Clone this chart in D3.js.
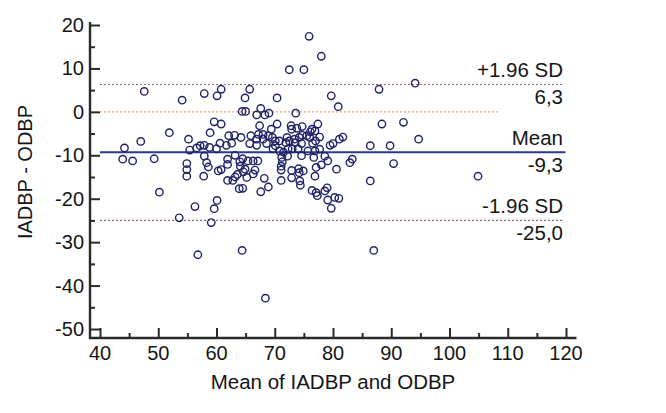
<!DOCTYPE html>
<html>
<head>
<meta charset="utf-8">
<script src="https://cdn.jsdelivr.net/npm/d3@7"></script>
<style>
  body { margin: 0; background: #fff; }
  svg text { font-family: "Liberation Sans", Arial, sans-serif; fill: #151515; }
</style>
</head>
<body>
<div id="chart"></div>
<script>
"use strict";

// == data: mean of the two methods, and their difference ==
var meanValues = [
  75.9, 78.0, 72.5, 75.0, 94.1, 87.9, 47.6, 54.1, 57.9, 60.1, 60.8, 65.7, 64.9, 70.4, 79.7, 80.9,
  64.4, 65.0, 67.6, 66.9, 68.3, 69.0, 73.6, 59.6, 60.8, 51.9, 58.9, 47.0, 55.2, 88.4, 92.1, 94.7,
  86.4, 89.8, 90.4, 104.9, 86.4, 87.0, 44.2, 43.9, 45.6, 49.3, 50.2, 54.9, 54.9, 54.9, 56.3, 60.1,
  59.6, 53.6, 59.1, 56.8, 64.4, 68.4, 55.4, 56.6, 57.2, 57.9, 58.8, 60.0, 60.6, 61.7, 62.6, 62.1,
  63.1, 64.2, 57.9, 58.3, 57.8, 58.6, 60.3, 60.8, 61.9, 61.9, 61.9, 62.8, 63.2, 64.0, 64.1, 64.5,
  63.6, 63.2, 64.6, 65.4, 66.3, 67.1, 64.9, 66.6, 63.9, 64.5, 67.6, 68.9, 68.2, 71.1, 72.9, 74.2,
  74.1, 74.3, 74.4, 74.9, 71.1, 71.3, 71.1, 72.2, 71.9, 70.8, 72.5, 73.0, 74.0, 72.8, 73.8, 74.7,
  74.2, 73.4, 74.7, 76.1, 76.9, 77.4, 76.0, 76.5, 77.7, 75.7, 76.9, 77.7, 79.5, 80.0, 78.6, 79.1,
  77.1, 78.0, 80.6, 76.9, 76.4, 77.1, 78.6, 79.0, 79.1, 79.7, 80.3, 67.4, 70.4, 68.0, 68.9, 69.6,
  66.9, 68.0, 65.9, 65.7, 66.9, 68.6, 69.7, 70.8, 81.7, 81.1, 82.9, 83.3, 69.4, 72.9, 76.4, 67.2,
  72.1, 75.5, 70.1, 73.5, 74.6, 65.2, 66.3, 71.2, 71.5, 72.9, 76.7, 74.6, 72.3, 70.1, 77.3, 81.0,
  77.0
];
var diffValues = [
  17.4, 12.8, 9.7, 9.7, 6.6, 5.2, 4.7, 2.7, 4.2, 3.7, 5.2, 5.2, 3.2, 3.2, 3.7, 1.2,
  0.1, 0.1, 0.8, -0.7, -0.7, -0.3, -0.3, -2.3, -2.8, -4.8, -4.8, -6.8, -6.3, -2.8, -2.4, -6.3,
  -7.8, -7.8, -11.9, -14.8, -15.9, -31.9, -8.3, -10.9, -11.3, -10.8, -18.5, -11.9, -13.3, -14.8, -21.8, -20.4,
  -22.3, -24.4, -25.5, -32.9, -31.9, -42.9, -8.8, -8.3, -7.8, -7.7, -8.2, -8.5, -7.2, -7.7, -7.2, -5.5,
  -5.4, -5.9, -10.2, -11.7, -14.8, -12.7, -13.6, -13.3, -10.9, -12.1, -15.8, -15.8, -10.0, -11.5, -12.5, -10.8,
  -14.4, -15.0, -13.8, -11.3, -11.3, -11.3, -13.2, -13.4, -17.7, -17.6, -18.4, -17.3, -15.3, -15.8, -15.2, -14.0,
  -13.1, -15.9, -16.9, -13.6, -12.5, -11.5, -13.4, -10.2, -7.1, -6.7, -6.7, -8.5, -8.5, -3.2, -3.8, -3.4,
  -5.9, -6.3, -5.4, -4.6, -4.4, -2.8, -5.9, -7.2, -5.8, -9.0, -9.0, -8.6, -7.7, -7.3, -10.2, -11.3,
  -12.8, -12.2, -13.2, -14.8, -18.1, -18.6, -18.2, -17.5, -20.3, -22.2, -19.7, -3.2, -2.8, -5.2, -5.5, -5.9,
  -6.3, -6.3, -5.5, -7.3, -7.7, -7.3, -8.5, -9.0, -5.8, -6.3, -11.7, -10.9, -4.0, -4.0, -4.0, -5.2,
  -5.9, -5.5, -6.7, -7.1, -7.3, -15.1, -14.3, -10.5, -9.3, -13.5, -10.5, -10.1, -8.5, -7.8, -19.3, -19.9,
  -6.7
];

// == limits of agreement ==
var limitValues = [6.3, -9.3, -25.0];
var limitNames  = ["+1.96 SD", "Mean", "-1.96 SD"];
var limitTexts  = ["6,3", "-9,3", "-25,0"];

var xTicks = [40, 50, 60, 70, 80, 90, 100, 110, 120];
var yTicks = [-50, -40, -30, -20, -10, 0, 10, 20];
var xTitle = "Mean of IADBP and ODBP";
var yTitle = "IADBP - ODBP";

// == svg boilerplate ==
var width = 666, height = 413;

var svg = d3.select("#chart")
            .append("svg")
            .attr("width", width)
            .attr("height", height);

var xScale = d3.scaleLinear().domain([40, 120]).range([100, 566]);
var yScale = d3.scaleLinear().domain([-50, 20]).range([329, 25]);

var axisX = 90, axisY = 338;
var axisColor = "#2a2a2a";

// == reference lines ==
svg.append("line")
   .attr("x1", xScale(40)).attr("x2", xScale(108.6))
   .attr("y1", yScale(0)).attr("y2", yScale(0))
   .attr("stroke", "#e3ac6c")
   .attr("stroke-width", 1.2)
   .attr("stroke-dasharray", "2,2");

limitValues.forEach(function (v, i) {
  var line = svg.append("line")
     .attr("x1", xScale(40)).attr("x2", xScale(i == 1 ? 119.9 : 119.6))
     .attr("y1", yScale(v)).attr("y2", yScale(v));
  if (i == 1) {
    line.attr("stroke", "#2b3a8e").attr("stroke-width", 2.2);
  } else {
    line.attr("stroke", "#a0606c").attr("stroke-width", 1.2).attr("stroke-dasharray", "2,2");
  }
  svg.append("text")
     .attr("x", 563)
     .attr("y", yScale(v) - 7)
     .attr("text-anchor", "end")
     .style("font-size", "20.5px")
     .text(limitNames[i]);
  svg.append("text")
     .attr("x", 563)
     .attr("y", yScale(v) + 20)
     .attr("text-anchor", "end")
     .style("font-size", "20.5px")
     .text(limitTexts[i]);
});

// == points ==
svg.append("g")
   .selectAll("circle")
   .data(meanValues)
   .enter()
   .append("circle")
   .attr("cx", function (d) { return xScale(d); })
   .attr("cy", function (d, i) { return yScale(diffValues[i]); })
   .attr("r", 3.7)
   .attr("fill", "none")
   .attr("stroke", "#1f2268")
   .attr("stroke-width", 1.4);

// == axes (ticks point inward, like the original) ==
var yAxis = d3.axisRight(yScale)
              .tickValues(d3.range(-50, 21, 5))
              .tickSizeInner(0).tickSizeOuter(0)
              .tickFormat("");
var gy = svg.append("g").attr("transform", "translate(" + axisX + ",0)").call(yAxis);
gy.select(".domain").remove();
gy.selectAll(".tick line")
  .attr("x2", function (d) { return d % 10 == 0 ? 10 : 5; })
  .attr("stroke", axisColor).attr("stroke-width", 2);

var xAxis = d3.axisTop(xScale)
              .tickValues(d3.range(40, 121, 5))
              .tickSizeInner(0).tickSizeOuter(0)
              .tickFormat("");
var gx = svg.append("g").attr("transform", "translate(0," + axisY + ")").call(xAxis);
gx.select(".domain").remove();
gx.selectAll(".tick line")
  .attr("y2", function (d) { return d % 10 == 0 ? -10 : -5; })
  .attr("stroke", axisColor).attr("stroke-width", 2);

svg.append("path")
   .attr("d", "M" + axisX + "," + yScale(20.7) + "V" + axisY + "H" + xScale(121.8))
   .attr("fill", "none")
   .attr("stroke", axisColor)
   .attr("stroke-width", 2.4);

// == tick labels ==
svg.append("g").selectAll("text")
   .data(yTicks).enter().append("text")
   .attr("x", 84)
   .attr("y", function (d) { return yScale(d) + 7; })
   .attr("text-anchor", "end")
   .style("font-size", "20px")
   .text(function (d) { return d; });

svg.append("g").selectAll("text")
   .data(xTicks).enter().append("text")
   .attr("x", function (d) { return xScale(d); })
   .attr("y", 360)
   .attr("text-anchor", "middle")
   .style("font-size", "20px")
   .text(function (d) { return d; });

// == axis titles ==
svg.append("text")
   .attr("x", (xScale(40) + xScale(120)) / 2)
   .attr("y", 389)
   .attr("text-anchor", "middle")
   .style("font-size", "20.5px")
   .text(xTitle);

svg.append("text")
   .attr("transform", "translate(32,172) rotate(-90)")
   .attr("text-anchor", "middle")
   .style("font-size", "20px")
   .text(yTitle);
</script>
</body>
</html>
